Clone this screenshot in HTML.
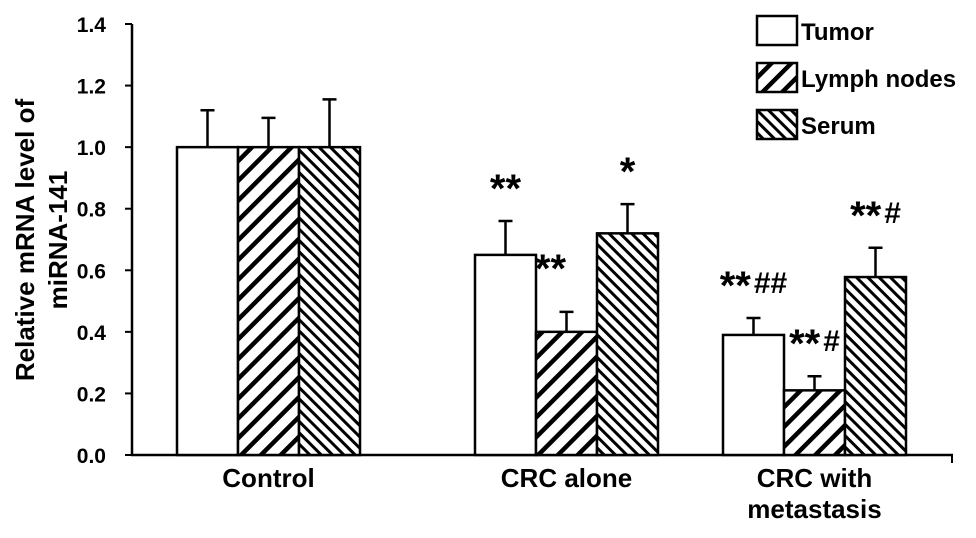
<!DOCTYPE html>
<html><head><meta charset="utf-8"><style>
body{margin:0;background:#fff;}
svg text{font-family:"Liberation Sans",Arial,sans-serif;font-weight:bold;fill:#000;}
</style></head><body>
<svg id="chart" width="976" height="533" viewBox="0 0 976 533" xmlns="http://www.w3.org/2000/svg">
<defs>
<pattern id="hatchL" patternUnits="userSpaceOnUse" width="14" height="14" patternTransform="rotate(45)">
<rect width="14" height="14" fill="#fff"/><rect x="0" y="0" width="4.5" height="14" fill="#000"/>
</pattern>
<pattern id="hatchS" patternUnits="userSpaceOnUse" width="8" height="8" patternTransform="rotate(-45)">
<rect width="8" height="8" fill="#fff"/><rect x="0" y="0" width="3" height="8" fill="#000"/>
</pattern>
</defs>
<g id="axes"></g>
<g id="bars"></g>
<g id="legend">
<rect x="757" y="16" width="40" height="29" fill="#fff" stroke="#000" stroke-width="2.5"/>
<text x="801" y="40" font-size="24">Tumor</text>
<rect x="757" y="63" width="40" height="29" fill="url(#hatchL)" stroke="#000" stroke-width="2.5"/>
<text x="801" y="87" font-size="24">Lymph nodes</text>
<rect x="757" y="110" width="40" height="29" fill="url(#hatchS)" stroke="#000" stroke-width="2.5"/>
<text x="801" y="134" font-size="24">Serum</text>
</g>
<text transform="translate(34,240) rotate(-90)" text-anchor="middle" font-size="26">Relative mRNA level of</text>
<text transform="translate(67,240) rotate(-90)" text-anchor="middle" font-size="26">miRNA-141</text>
</svg>
<script>
const categories = ["Control", "CRC alone", "CRC with metastasis"];
const series = ["Tumor", "Lymph nodes", "Serum"];
const tumorVals = [1.0, 0.65, 0.39];
const lymphVals = [1.0, 0.40, 0.21];
const serumVals = [1.0, 0.72, 0.578];
const tumorErr = [0.12, 0.11, 0.055];
const lymphErr = [0.095, 0.065, 0.046];
const serumErr = [0.155, 0.095, 0.095];
const starLabels = [["", "", ""], ["**", "**", "*"], ["**", "**", "**"]];
const hashLabels = [["", "", ""], ["", "", ""], ["##", "#", "#"]];
const yTicks = [0.0, 0.2, 0.4, 0.6, 0.8, 1.0, 1.2, 1.4];

const NS = "http://www.w3.org/2000/svg";
const y0 = 455, yTop = 24, yMax = 1.4;
function yScale(v){ return y0 - v * (y0 - yTop) / yMax; }
const groupStart = [177, 475, 723], barW = 61;
function xBar(ci, si){ return groupStart[ci] + si * barW; }
function mk(tag, attrs, parent){ const e = document.createElementNS(NS, tag); for (const k in attrs) e.setAttribute(k, attrs[k]); parent.appendChild(e); return e; }

const axes = document.getElementById("axes");
const yAxis = mk("line", {x1:132, y1:yTop, x2:132, y2:y0, stroke:"#000", "stroke-width":2.5}, axes);


const xAxis = mk("line", {x1:131, y1:y0, x2:953, y2:y0, stroke:"#000", "stroke-width":2.5}, axes);


mk("line", {x1:952, y1:y0, x2:952, y2:y0+8, stroke:"#000", "stroke-width":2}, axes);
yTicks.forEach(t => {
  const y = yScale(t);
  const tk = mk("line", {x1:125, y1:y, x2:132, y2:y, stroke:"#000", "stroke-width":2}, axes);
  
  
  const lb = mk("text", {x:106, y:y+8, "text-anchor":"end", "font-size":21}, axes);
  lb.textContent = t.toFixed(1);
  
  
});
const catLines = [["Control"], ["CRC alone"], ["CRC with", "metastasis"]];
categories.forEach((c, ci) => {
  const cx = groupStart[ci] + barW * 1.5;
  catLines[ci].forEach((ln, li) => {
    const t = mk("text", {x:cx, y:487 + li*31, "text-anchor":"middle", "font-size":26}, axes);
    t.textContent = ln;
    
    
  });
});

const bars = document.getElementById("bars");
const vals = [tumorVals, lymphVals, serumVals];
const errs = [tumorErr, lymphErr, serumErr];
const fills = ["#fff", "url(#hatchL)", "url(#hatchS)"];
categories.forEach((c, ci) => {
  series.forEach((s, si) => {
    const v = vals[si][ci], e = errs[si][ci];
    const x = xBar(ci, si), yT = yScale(v), yE = yScale(v + e), cx = x + barW/2;
    const eb = mk("path", {d:`M${cx},${yT} V${yE} M${cx-7},${yE} H${cx+7}`, stroke:"#000", "stroke-width":2.5, fill:"none"}, bars);
    
    
    const r = mk("rect", {x:x, y:yT, width:barW, height:y0 - yT, fill:fills[si], stroke:"#000", "stroke-width":2.5}, bars);
    
    
    const st = starLabels[ci][si], hs = hashLabels[ci][si];
    if (st) {
      let ax = cx, cy = yE - 43;
      if (ci === 1 && si === 1) { ax = cx - 16; cy = yE - 54; }
      const t = mk("text", {x:ax, y:cy + 24, "text-anchor":"middle"}, bars);
      
      
      const ts = mk("tspan", {"font-size":40}, t);
      ts.textContent = st;
      if (hs) {
        const th = mk("tspan", {"font-size":30, dy:-6, dx:3}, t);
        th.textContent = hs;
      }
    }
  });
});
</script>
</body></html>
